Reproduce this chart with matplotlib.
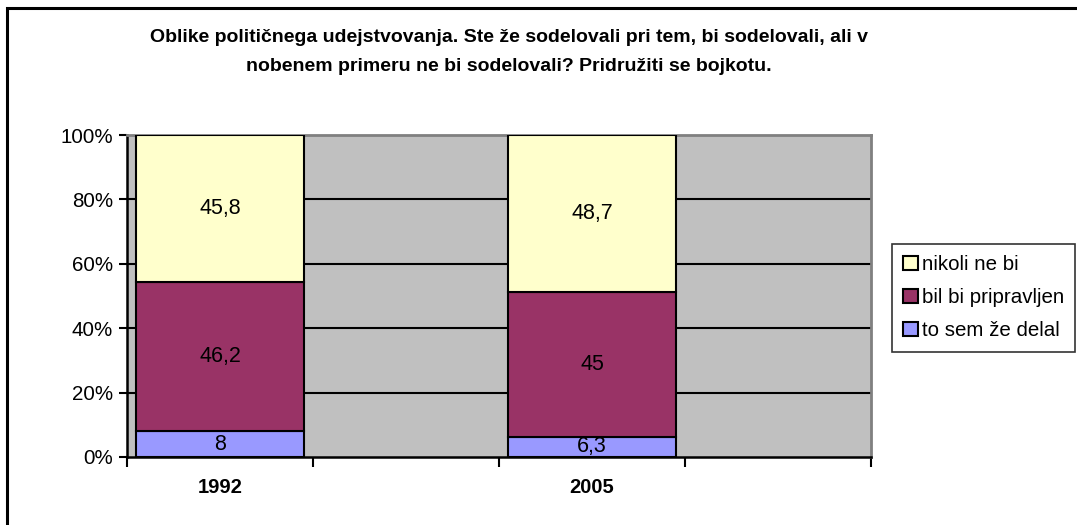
import numpy as np
import matplotlib.pyplot as plt
from matplotlib.patches import Rectangle

plt.rcParams["font.family"] = ["Liberation Sans", "DejaVu Sans"]

# categories (Excel chart has empty slots after each year)
categories = ["1992", "", "2005", ""]
years = ["1992", "2005"]
series_names = ["to sem že delal", "bil bi pripravljen", "nikoli ne bi"]
to_sem = [8, 6.3]
bil_bi = [46.2, 45]
nikoli = [45.8, 48.7]
colors = ["#9999FF", "#993366", "#FFFFCC"]
labels_txt = [["8", "6,3"], ["46,2", "45"], ["45,8", "48,7"]]

fig = plt.figure(figsize=(10.77, 5.25), dpi=100)
W, H = 1077, 525
ax = fig.add_axes([127 / W, (H - 457) / H, (871 - 127) / W, (457 - 135) / H])
ax.set_facecolor("#C0C0C0")

# outer chart frame (cut on right/bottom like the reference)
fig.patches.append(Rectangle((7 / W, -0.05), 1.1, (H - 8) / H + 0.05,
                             transform=fig.transFigure, fill=False,
                             edgecolor="black", linewidth=2.2, zorder=0))

x = np.array([categories.index(y) for y in years], dtype=float)
series = [to_sem, bil_bi, nikoli]
bottom = np.zeros(len(years))
handles = []
for vals, col, name, txts in zip(series, colors, series_names, labels_txt):
    vals = np.array(vals, dtype=float)
    b = ax.bar(x, vals, width=0.9, bottom=bottom, color=col,
               edgecolor="black", linewidth=1.5, label=name, zorder=3)
    handles.append(b)
    for xi, bi, vi, t in zip(x, bottom, vals, txts):
        ax.text(xi, bi + vi / 2, t, ha="center", va="center", fontsize=15.5, zorder=4)
    bottom += vals

ax.set_xlim(-0.5, len(categories) - 0.5)
ax.set_ylim(0, 100)
ax.set_yticks([0, 20, 40, 60, 80, 100])
ax.set_yticklabels([f"{v}%" for v in [0, 20, 40, 60, 80, 100]], fontsize=14.8)
for yv in [20, 40, 60, 80]:
    ax.axhline(yv, color="black", linewidth=1.5, zorder=1)

ax.set_xticks(np.arange(len(categories) + 1) - 0.5)
ax.set_xticklabels([])
ax.set_xticks(np.arange(len(categories)), minor=True)
ax.set_xticklabels(categories, minor=True, fontsize=14.5, fontweight="bold")
ax.tick_params(axis="x", which="minor", length=0, pad=15)
ax.tick_params(axis="x", which="major", direction="out", length=7, width=1.5)
ax.tick_params(axis="y", direction="out", length=6, width=1.5, pad=4)

for s in ["left", "bottom"]:
    ax.spines[s].set_color("black")
    ax.spines[s].set_linewidth(1.8)
for s in ["top", "right"]:
    ax.spines[s].set_color("#808080")
    ax.spines[s].set_linewidth(2)

fig.text(509 / W, 1 - 52 / H,
         "Oblike političnega udejstvovanja. Ste že sodelovali pri tem, bi sodelovali, ali v\n"
         "nobenem primeru ne bi sodelovali? Pridružiti se bojkotu.",
         ha="center", va="center", fontsize=14, fontweight="bold", linespacing=1.95)

leg = fig.legend(handles[::-1], series_names[::-1], loc="upper left",
                 bbox_to_anchor=(892 / W, 1 - 244 / H), fontsize=14.8,
                 frameon=True, fancybox=False, edgecolor="black",
                 handlelength=0.7, handleheight=0.7, handletextpad=0.2,
                 borderpad=0.55, labelspacing=0.68, borderaxespad=0)
leg.get_frame().set_linewidth(1.2)

fig.savefig("out.png", dpi=100)
